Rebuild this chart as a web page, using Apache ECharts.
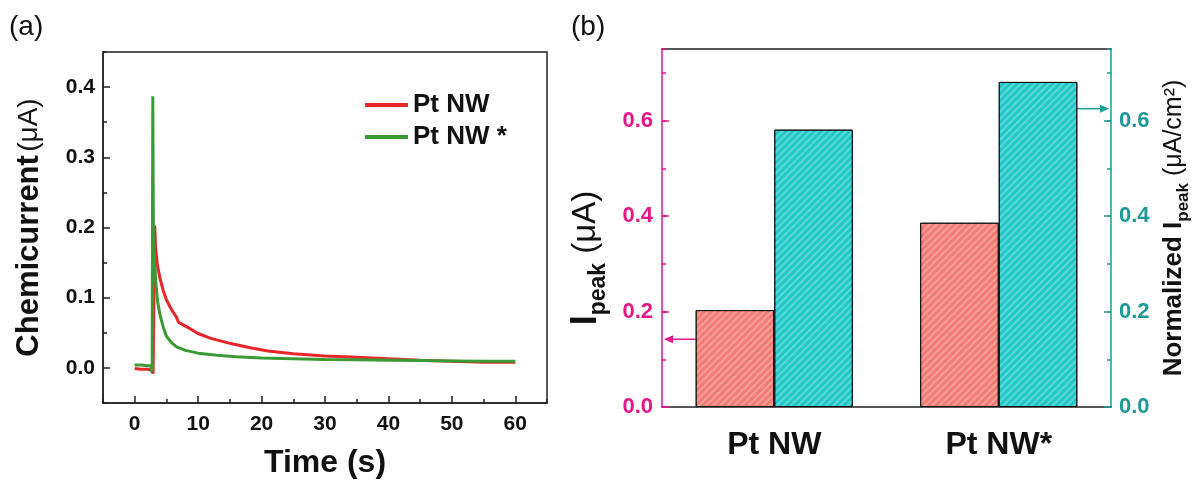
<!DOCTYPE html>
<html>
<head>
<meta charset="utf-8">
<script src="https://cdn.jsdelivr.net/npm/echarts@6/dist/echarts.min.js"></script>
<style>
html,body{margin:0;padding:0;background:#fff;}
#chart{width:1202px;height:482px;}
</style>
</head>
<body>
<div id="chart"></div>
<script>
// (a) chemicurrent transients
var timeRed = [0, 1, 2, 2.6, 2.9, 3.05, 3.15, 3.3, 3.6, 4, 4.5, 5, 5.8, 6.6, 6.9, 7.5, 8.5, 10, 12, 15, 18, 21, 25, 30, 35, 40, 45, 50, 55, 60];
var currentRed = [-0.001, -0.002, -0.002, -0.003, -0.008, 0.12, 0.203, 0.17, 0.145, 0.127, 0.11, 0.097, 0.083, 0.072, 0.065, 0.062, 0.057, 0.049, 0.042, 0.035, 0.029, 0.024, 0.02, 0.017, 0.015, 0.013, 0.011, 0.0095, 0.008, 0.008];
var timeGreen = [0, 1, 2, 2.5, 2.75, 2.85, 2.95, 3.1, 3.3, 3.6, 4, 4.5, 5, 5.8, 6.6, 8, 10, 13, 16, 20, 25, 30, 35, 40, 45, 50, 55, 60];
var currentGreen = [0.004, 0.004, 0.003, 0.003, -0.006, 0.387, 0.19, 0.16, 0.125, 0.095, 0.075, 0.058, 0.045, 0.036, 0.030, 0.025, 0.021, 0.018, 0.016, 0.014, 0.013, 0.012, 0.0115, 0.011, 0.0105, 0.010, 0.0095, 0.0095];

// (b) peak currents
var samples = ['Pt NW', 'Pt NW*'];
var peakCurrent = [0.203, 0.386];
var normalizedPeak = [0.581, 0.681];
var arrowLeftAt = 0.142;
var arrowRightAt = 0.625;

var FONT = 'Liberation Sans, Arial, Helvetica, sans-serif';
var PINK = '#E5168A';
var TEAL = '#1C9A97';
var gridA = {left: 103, top: 52, width: 444, height: 351};
var gridB = {left: 662, top: 49, width: 449, height: 358};
var BAR_W = 0.35;

function pairs(xs, ys){
    return xs.map(function(x, i){ return [x, ys[i]]; });
}

var myChart = echarts.init(document.getElementById('chart'), null, {renderer: 'canvas'});

var hatch = {
    symbol: 'rect',
    symbolSize: 1,
    dashArrayX: [1, 0],
    dashArrayY: [1.5, 2.5],
    rotation: -Math.PI / 4,
    color: 'rgba(255,255,255,0.28)'
};

function ticks(len, color){
    return {show: true, inside: true, length: len, lineStyle: {color: color, width: 1.5}};
}

// minor tick axis: ticks only
function minorAxis(extra){
    return Object.assign({
        type: 'value',
        axisLine: {show: false, onZero: false},
        axisLabel: {show: false},
        splitLine: {show: false}
    }, extra);
}

var option = {
    animation: false,
    backgroundColor: '#fff',
    textStyle: {fontFamily: FONT},
    title: [
        {text: '(a)', left: 4, top: 8, textStyle: {fontFamily: FONT, fontSize: 28, fontWeight: 'normal', color: '#111'}},
        {text: '(b)', left: 566, top: 8, textStyle: {fontFamily: FONT, fontSize: 28, fontWeight: 'normal', color: '#111'}}
    ],
    legend: {
        data: ['Pt NW', 'Pt NW *'],
        orient: 'vertical',
        left: 360,
        top: 87,
        itemGap: 6,
        itemWidth: 43,
        itemHeight: 4,
        icon: 'rect',
        textStyle: {fontFamily: FONT, fontSize: 26, fontWeight: 'bold', color: '#111', lineHeight: 26}
    },
    grid: [
        Object.assign({show: true, borderColor: '#222', borderWidth: 1.5, outerBoundsMode: 'none', containLabel: false}, gridA),
        Object.assign({outerBoundsMode: 'none', containLabel: false}, gridB)
    ],
    xAxis: [
        {
            type: 'value', gridIndex: 0, position: 'bottom', min: -5, max: 65, splitNumber: 7,
            axisLine: {show: true, onZero: false, lineStyle: {color: '#222', width: 1.5}},
            axisTick: ticks(7, '#222'),
            axisLabel: {showMinLabel: false, showMaxLabel: false, margin: 11, fontFamily: FONT, fontSize: 21, fontWeight: 'bold', color: '#111'},
            splitLine: {show: false},
            name: 'Time (s)', nameLocation: 'middle', nameGap: 44,
            nameTextStyle: {fontFamily: FONT, fontSize: 32, fontWeight: 'bold', color: '#111'}
        },
        minorAxis({gridIndex: 0, position: 'bottom', min: -5, max: 65, interval: 5, axisTick: ticks(4, '#222')}),
        {
            type: 'category', gridIndex: 1, position: 'bottom', data: samples,
            axisLine: {show: true, onZero: false, lineStyle: {color: '#222', width: 1.5}},
            axisTick: {show: false},
            axisLabel: {margin: 22, fontFamily: FONT, fontSize: 32, fontWeight: 'bold', color: '#111'}
        },
        {
            type: 'category', gridIndex: 1, position: 'top', data: samples,
            axisLine: {show: true, onZero: false, lineStyle: {color: '#222', width: 1.5}},
            axisTick: {show: false},
            axisLabel: {show: false}
        }
    ],
    yAxis: [
        {
            type: 'value', gridIndex: 0, position: 'left', min: -0.05, max: 0.45, splitNumber: 5,
            axisLine: {show: true, onZero: false, lineStyle: {color: '#222', width: 1.5}},
            axisTick: ticks(7, '#222'),
            axisLabel: {showMinLabel: false, showMaxLabel: false, margin: 8, fontFamily: FONT, fontSize: 21, fontWeight: 'bold', color: '#111',
                formatter: function(v){ return v.toFixed(1); }},
            splitLine: {show: false},
            name: '{b|Chemicurrent} {n|(μA)}', nameLocation: 'middle', nameGap: 58,
            nameTextStyle: {rich: {
                b: {fontFamily: FONT, fontSize: 31, fontWeight: 'bold', color: '#111'},
                n: {fontFamily: FONT, fontSize: 28, fontWeight: 'normal', color: '#111'}
            }}
        },
        minorAxis({gridIndex: 0, position: 'left', min: -0.05, max: 0.45, interval: 0.05, axisTick: ticks(4, '#222')}),
        {
            type: 'value', gridIndex: 1, position: 'left', min: 0, max: 0.75, interval: 0.2,
            axisLine: {show: true, onZero: false, lineStyle: {color: PINK, width: 1.5}},
            axisTick: ticks(7, PINK),
            axisLabel: {showMaxLabel: false, margin: 9, fontFamily: FONT, fontSize: 22, fontWeight: 'bold', color: PINK,
                formatter: function(v){ return v.toFixed(1); }},
            splitLine: {show: false},
            name: '{i|I}{s|peak}{n| (μA)}', nameLocation: 'middle', nameGap: 52,
            nameTextStyle: {padding: [0, 60, 0, 0], rich: {
                i: {fontFamily: FONT, fontSize: 36, fontWeight: 'bold', color: '#111', lineHeight: 48, verticalAlign: 'middle'},
                s: {fontFamily: FONT, fontSize: 23, fontWeight: 'bold', color: '#111', verticalAlign: 'bottom'},
                n: {fontFamily: FONT, fontSize: 33, fontWeight: 'normal', color: '#111', lineHeight: 48, verticalAlign: 'middle'}
            }}
        },
        {
            type: 'value', gridIndex: 1, position: 'right', min: 0, max: 0.75, interval: 0.2,
            axisLine: {show: true, onZero: false, lineStyle: {color: TEAL, width: 1.5}},
            axisTick: ticks(7, TEAL),
            axisLabel: {showMaxLabel: false, margin: 8, fontFamily: FONT, fontSize: 22, fontWeight: 'bold', color: TEAL,
                formatter: function(v){ return v.toFixed(1); }},
            splitLine: {show: false},
            name: '{b|Normalized I}{s|peak}{n| (μA/cm²)}', nameLocation: 'middle', nameGap: 45,
            nameTextStyle: {rich: {
                b: {fontFamily: FONT, fontSize: 26, fontWeight: 'bold', color: '#111', lineHeight: 36, verticalAlign: 'middle'},
                s: {fontFamily: FONT, fontSize: 17, fontWeight: 'bold', color: '#111', verticalAlign: 'bottom'},
                n: {fontFamily: FONT, fontSize: 25, fontWeight: 'normal', color: '#111', lineHeight: 36, verticalAlign: 'middle'}
            }}
        },
        minorAxis({gridIndex: 1, position: 'left', min: 0, max: 0.75, interval: 0.1, axisTick: ticks(4, PINK)}),
        minorAxis({gridIndex: 1, position: 'right', min: 0, max: 0.75, interval: 0.1, axisTick: ticks(4, TEAL)})
    ],
    series: [
        {
            name: 'Pt NW', type: 'line', xAxisIndex: 0, yAxisIndex: 0,
            showSymbol: false, symbol: 'none', color: '#E8262A',
            lineStyle: {width: 3, color: '#E8262A'},
            data: pairs(timeRed, currentRed)
        },
        {
            name: 'Pt NW *', type: 'line', xAxisIndex: 0, yAxisIndex: 0,
            showSymbol: false, symbol: 'none', color: '#3A9B34',
            lineStyle: {width: 3, color: '#3A9B34'},
            data: pairs(timeGreen, currentGreen)
        },
        {
            name: 'Ipeak', type: 'bar', xAxisIndex: 2, yAxisIndex: 2,
            barWidth: (BAR_W * 100) + '%', barGap: '0%',
            itemStyle: {color: '#F27C74', borderColor: '#111', borderWidth: 1, decal: hatch},
            data: peakCurrent
        },
        {
            name: 'Normalized', type: 'bar', xAxisIndex: 2, yAxisIndex: 3,
            barWidth: (BAR_W * 100) + '%', barGap: '0%',
            itemStyle: {color: '#1FC8C6', borderColor: '#111', borderWidth: 1, decal: hatch},
            data: normalizedPeak
        }
    ]
};

myChart.setOption(option);

// arrows pointing each bar pair to its own axis
function arrow(xFrom, xTip, y, color){
    var dir = xTip > xFrom ? 1 : -1;
    return {
        type: 'group',
        children: [
            {type: 'line', shape: {x1: xFrom, y1: y, x2: xTip - dir * 6, y2: y}, style: {stroke: color, lineWidth: 1.5}},
            {type: 'polygon', shape: {points: [[xTip, y], [xTip - dir * 9, y - 4], [xTip - dir * 9, y + 4]]}, style: {fill: color}}
        ]
    };
}
var c0 = myChart.convertToPixel({xAxisIndex: 2}, samples[0]);
var c1 = myChart.convertToPixel({xAxisIndex: 2}, samples[1]);
var barPx = (c1 - c0) * BAR_W;
var yL = myChart.convertToPixel({yAxisIndex: 2}, arrowLeftAt);
var yR = myChart.convertToPixel({yAxisIndex: 3}, arrowRightAt);
myChart.setOption({
    graphic: [
        arrow(c0 - barPx, gridB.left + 2, yL, PINK),
        arrow(c1 + barPx, gridB.left + gridB.width - 2, yR, TEAL)
    ]
});
</script>
</body>
</html>
